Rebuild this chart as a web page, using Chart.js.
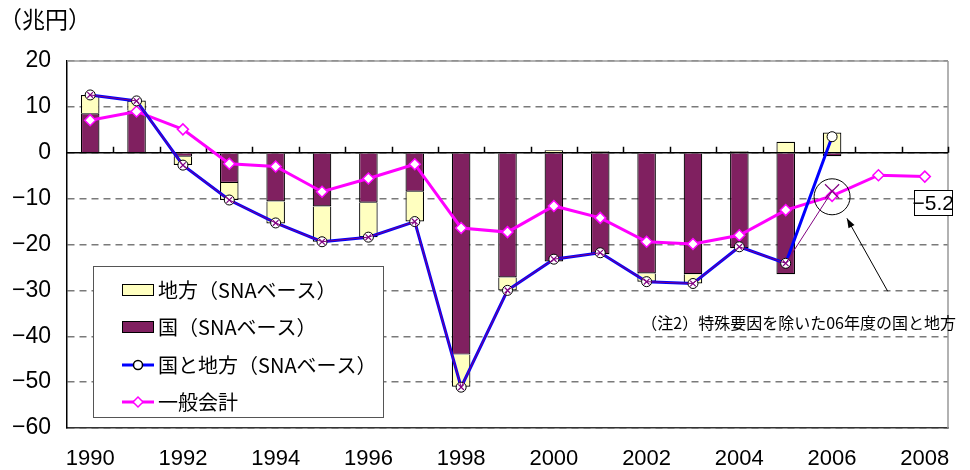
<!DOCTYPE html>
<html>
<head>
<meta charset="utf-8">
<script src="https://cdn.jsdelivr.net/npm/chart.js@4/dist/chart.umd.min.js"></script>
<style>
  html, body { margin: 0; padding: 0; background: #fff; }
  #wrap { width: 970px; height: 470px; position: relative; }
</style>
</head>
<body>
<div id="wrap"><canvas id="chart" width="970" height="470"></canvas></div>
<script>
// 年度
const years = ['1990','1991','1992','1993','1994','1995','1996','1997','1998','1999',
  '2000','2001','2002','2003','2004','2005','2006','2007','2008'];

// 国（SNAベース）
const kuni = [8.6, 9.2, -0.85, -6.6, -10.6, -11.7, -10.9, -8.5, -44.0, -27.2,
  -23.7, -22.1, -26.3, -26.5, -20.8, -26.5, -0.75, null, null];
// 地方（SNAベース）
const chihou = [4.0, 2.2, -1.8, -3.7, -4.8, -7.7, -7.5, -6.5, -7.0, -2.8,
  0.55, 0.3, -1.8, -2.0, 0.3, 2.4, 4.4, null, null];
// 国と地方（SNAベース）
const kuniChihou = [12.6, 11.3, -2.7, -10.3, -15.3, -19.4, -18.4, -15.0, -51.1, -30.0,
  -23.2, -21.8, -28.1, -28.5, -20.5, -24.1, 3.5, null, null];
// 特殊要因を除いた国と地方
const tokushu = [12.6, 11.3, -2.7, -10.3, -15.3, -19.4, -18.4, -15.0, -51.1, -30.0,
  -23.2, -21.8, -28.1, -28.5, -20.5, -24.1, -8.4, null, null];
// 一般会計
const ippan = [7.1, 9.0, 5.1, -2.4, -3.0, -8.5, -5.6, -2.5, -16.4, -17.3,
  -11.6, -14.2, -19.4, -19.9, -18.0, -12.5, -9.4, -4.9, -5.2];
// 06年度の丸印
const circleMark = [null, null, null, null, null, null, null, null, null, null,
  null, null, null, null, null, null, -9.6, null, null];

const yTicks = [20, 10, 0, -10, -20, -30, -40, -50, -60];

const NUM_FONT = "'Liberation Sans Narrow', 'Liberation Sans', Arial, sans-serif";
const JP_FONT = "'Noto Sans CJK JP', 'Noto Sans', sans-serif";
const YELLOW = '#FFFFC0';
const PURPLE = '#802060';
const BLUE = '#0000FF';
const MAGENTA = '#FF00FF';

const extras = {
  id: 'extras',
  beforeDatasetsDraw(chart) {
    const { ctx, chartArea: a, scales: { x, y } } = chart;
    ctx.save();
    // 右枠・上枠
    ctx.strokeStyle = '#999';
    ctx.lineWidth = 1.5;
    ctx.beginPath();
    ctx.moveTo(a.right, a.top);
    ctx.lineTo(a.right, a.bottom);
    ctx.moveTo(a.left, a.top);
    ctx.lineTo(a.right, a.top);
    ctx.stroke();
    // ゼロ線と目盛
    const y0 = y.getPixelForValue(0);
    ctx.strokeStyle = '#000';
    ctx.lineWidth = 1.5;
    ctx.beginPath();
    ctx.moveTo(a.left, y0);
    ctx.lineTo(a.right, y0);
    for (let i = 1; i <= years.length; i++) {
      const px = Math.round(x.getPixelForValue(i - 0.5)) + 0.5;
      ctx.moveTo(px, y0);
      ctx.lineTo(px, y0 - 6);
    }
    ctx.stroke();
    ctx.restore();
  },
  afterDraw(chart) {
    const { ctx, chartArea: a, scales: { x, y } } = chart;
    ctx.save();

    // 単位
    ctx.fillStyle = '#000';
    ctx.font = '23px ' + JP_FONT;
    ctx.textBaseline = 'middle';
    ctx.textAlign = 'left';
    ctx.fillText('（兆円）', -1, 19);

    // 矢印
    const sx = x.getPixelForValue(17.2), sy = y.getPixelForValue(-30.2);
    const ex = x.getPixelForValue(16.32), ey = y.getPixelForValue(-14.3);
    ctx.strokeStyle = '#000';
    ctx.fillStyle = '#000';
    ctx.lineWidth = 1;
    ctx.beginPath();
    ctx.moveTo(sx, sy);
    ctx.lineTo(ex, ey);
    ctx.stroke();
    const ang = Math.atan2(ey - sy, ex - sx);
    ctx.beginPath();
    ctx.moveTo(ex, ey);
    ctx.lineTo(ex - 10 * Math.cos(ang - 0.35), ey - 10 * Math.sin(ang - 0.35));
    ctx.lineTo(ex - 10 * Math.cos(ang + 0.35), ey - 10 * Math.sin(ang + 0.35));
    ctx.closePath();
    ctx.fill();

    // 注記
    ctx.font = '16px ' + JP_FONT;
    ctx.textAlign = 'right';
    ctx.fillText('（注2）特殊要因を除いた06年度の国と地方', a.right + 8, y.getPixelForValue(-37));

    // -5.2 ラベル
    const bx = x.getPixelForValue(18.18), by = y.getPixelForValue(-10.9);
    ctx.font = '21px ' + NUM_FONT;
    ctx.textAlign = 'center';
    const w = 38, h = 25;
    ctx.fillStyle = '#fff';
    ctx.fillRect(bx - w / 2, by - h / 2, w, h);
    ctx.strokeRect(Math.round(bx - w / 2) + 0.5, Math.round(by - h / 2) + 0.5, w, h);
    ctx.fillStyle = '#000';
    ctx.fillText('−5.2', bx, by + 1);

    // 凡例
    const lx = 93, ly = 266, lw = 290, lh = 151;
    ctx.fillStyle = '#fff';
    ctx.fillRect(lx, ly, lw, lh);
    ctx.strokeStyle = '#555';
    ctx.lineWidth = 1;
    ctx.strokeRect(lx + 0.5, ly + 0.5, lw, lh);
    const rows = [
      { t: '地方（SNAベース）', y: 290, kind: 'box', c: YELLOW },
      { t: '国（SNAベース）', y: 327, kind: 'box', c: PURPLE },
      { t: '国と地方（SNAベース）', y: 365, kind: 'circle', c: BLUE },
      { t: '一般会計', y: 402, kind: 'diamond', c: MAGENTA }
    ];
    ctx.font = '20px ' + JP_FONT;
    ctx.textAlign = 'left';
    ctx.textBaseline = 'middle';
    rows.forEach(r => {
      const s0 = 122, s1 = 154, cx = (s0 + s1) / 2;
      if (r.kind === 'box') {
        ctx.fillStyle = r.c;
        ctx.fillRect(s0, r.y - 6, s1 - s0, 12);
        ctx.strokeStyle = '#000';
        ctx.strokeRect(s0 + 0.5, r.y - 5.5, s1 - s0 - 1, 11);
      } else {
        ctx.strokeStyle = r.c;
        ctx.lineWidth = 3;
        ctx.beginPath();
        ctx.moveTo(s0, r.y);
        ctx.lineTo(s1, r.y);
        ctx.stroke();
        ctx.lineWidth = 1.5;
        ctx.fillStyle = '#fff';
        ctx.beginPath();
        if (r.kind === 'circle') {
          ctx.strokeStyle = '#000';
          ctx.arc(cx, r.y, 4.5, 0, Math.PI * 2);
        } else {
          ctx.moveTo(cx, r.y - 5);
          ctx.lineTo(cx + 5, r.y);
          ctx.lineTo(cx, r.y + 5);
          ctx.lineTo(cx - 5, r.y);
          ctx.closePath();
        }
        ctx.fill();
        ctx.stroke();
      }
      ctx.fillStyle = '#000';
      ctx.fillText(r.t, 158, r.y);
    });
    ctx.restore();
  }
};

new Chart(document.getElementById('chart'), {
  type: 'bar',
  data: {
    labels: years,
    datasets: [
      {
        label: '国（SNAベース）',
        data: kuni,
        stack: 'bars',
        backgroundColor: PURPLE,
        borderColor: '#000',
        borderWidth: 1.2,
        barPercentage: 0.4,
        categoryPercentage: 1,
        order: 3
      },
      {
        label: '地方（SNAベース）',
        data: chihou,
        stack: 'bars',
        backgroundColor: YELLOW,
        borderColor: '#000',
        borderWidth: 1.2,
        barPercentage: 0.4,
        categoryPercentage: 1,
        order: 3
      },
      {
        type: 'line',
        label: '一般会計',
        data: ippan,
        stack: 'ippan',
        borderColor: MAGENTA,
        borderWidth: 3,
        pointStyle: 'rectRot',
        pointRadius: 5.5,
        pointBackgroundColor: '#fff',
        pointBorderColor: MAGENTA,
        pointBorderWidth: 1.5,
        order: 2
      },
      {
        type: 'line',
        label: '国と地方（SNAベース）',
        data: kuniChihou,
        stack: 'kuniChihou',
        borderColor: BLUE,
        borderWidth: 3,
        pointStyle: 'circle',
        pointRadius: 5,
        pointBackgroundColor: '#fff',
        pointBorderColor: '#000',
        pointBorderWidth: 1,
        order: 1
      },
      {
        type: 'line',
        label: '特殊要因除く',
        data: tokushu,
        stack: 'tokushu',
        borderColor: '#800080',
        borderWidth: 1,
        pointStyle: 'crossRot',
        pointRadius: [4, 4, 4, 4, 4, 4, 4, 4, 4, 4, 4, 4, 4, 4, 4, 4, 10, 0, 0],
        pointBorderColor: '#800080',
        pointBorderWidth: 1.2,
        order: 0
      },
      {
        type: 'line',
        label: '丸印',
        data: circleMark,
        stack: 'circle',
        showLine: false,
        pointStyle: 'circle',
        pointRadius: 18,
        pointBackgroundColor: 'rgba(0,0,0,0)',
        pointBorderColor: '#000',
        pointBorderWidth: 1,
        order: 0
      }
    ]
  },
  options: {
    responsive: false,
    animation: false,
    layout: { padding: { top: 61, right: 22, left: 0, bottom: 0 } },
    plugins: {
      legend: { display: false },
      tooltip: { enabled: false }
    },
    scales: {
      x: {
        stacked: true,
        grid: { display: false, drawTicks: false },
        border: { display: true, color: '#333', width: 1.5 },
        ticks: {
          autoSkip: false,
          maxRotation: 0,
          padding: 18,
          color: '#000',
          font: { family: NUM_FONT, size: 22 },
          callback: (v, i) => (i % 2 === 0 ? years[i] : '')
        },
        afterFit: s => { s.height = 42; }
      },
      y: {
        stacked: true,
        min: -60,
        max: 20,
        afterBuildTicks: s => { s.ticks = yTicks.map(v => ({ value: v })); },
        grid: {
          color: '#7a7a7a',
          lineWidth: 1.5,
          drawTicks: false
        },
        border: { display: true, color: '#000', width: 1.5, dash: [7, 5] },
        ticks: {
          padding: 16,
          color: '#000',
          font: { family: NUM_FONT, size: 23 },
          callback: v => String(v).replace('-', '−')
        },
        afterFit: s => { s.width = 67; }
      }
    }
  },
  plugins: [extras]
});
</script>
</body>
</html>
